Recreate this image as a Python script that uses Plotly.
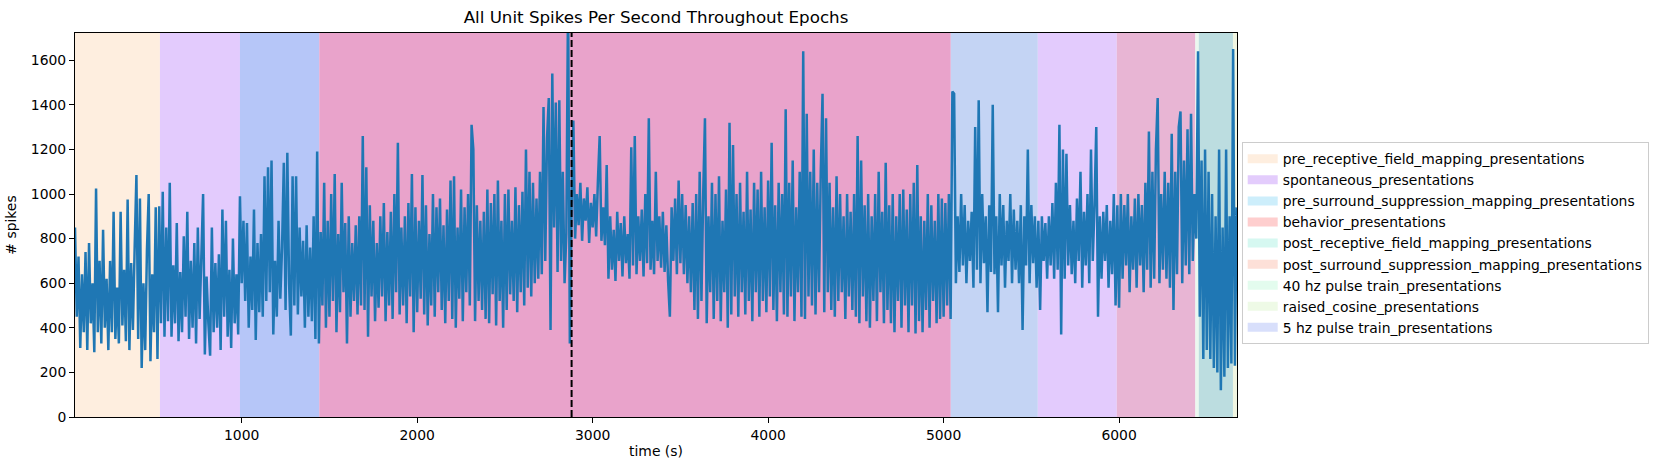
import numpy as np
import plotly.graph_objects as go

# ---------------- data ----------------
time_start = 50      # s, first sample
time_step = 10       # s between samples

spikes_per_second = [
    # 50-140
    850, 450, 720, 310, 640, 380, 740, 300, 780, 420,
    # 150-240
    600, 290, 1025, 380, 700, 330, 840, 400, 620, 300,
    # 250-340
    700, 380, 920, 350, 580, 330, 920, 410, 660, 340,
    # 350-440
    975, 300, 690, 390, 760, 1085, 350, 980, 220, 600,
    # 450-540
    300, 750, 1000, 250, 640, 380, 940, 260, 945, 420,
    # 550-640
    1010, 360, 850, 430, 1050, 360, 680, 420, 870, 340,
    # 650-740
    650, 380, 810, 450, 920, 350, 700, 400, 780, 330,
    # 750-840
    850, 440, 720, 1000, 280, 630, 420, 275, 850, 380,
    # 850-940
    690, 400, 730, 300, 930, 450, 880, 360, 660, 310,
    # 950-990
    800, 420, 640, 370, 990,
    # 1000-1090
    600, 880, 520, 870, 400, 720, 480, 930, 345, 780,
    # 1100-1190
    470, 820, 450, 1080, 520, 1120, 560, 1150, 370, 700,
    # 1200-1290
    450, 880, 530, 760, 1140, 480, 1185, 600, 365, 1080,
    # 1300-1390
    500, 1080, 460, 850, 540, 790, 400, 860, 450, 760,
    # 1400-1490
    430, 900, 350, 1190, 330, 830, 500, 1050, 400, 880,
    # 1500-1590
    450, 1000, 520, 1090, 380, 820, 470, 1050, 560, 870,
    # 1600-1690
    330, 900, 450, 780, 520, 860, 460, 900, 500, 1260,
    # 1700-1790
    480, 1120, 360, 950, 540, 880, 430, 780, 490, 900,
    # 1800-1890
    540, 960, 430, 830, 500, 920, 440, 1000, 560, 1230,
    # 1900-1990
    460, 850, 500, 900, 420, 960, 540, 1090, 380, 940,
    # 2000-2090
    470, 880, 530, 1085, 460, 950, 410, 820, 500, 1000,
    # 2100-2190
    450, 940, 560, 980, 480, 860, 420, 930, 520, 1060,
    # 2200-2290
    440, 1080, 400, 850, 530, 1020, 430, 940, 560, 1000,
    # 2300-2390
    500, 1310, 1200, 430, 950, 520, 880, 480, 920, 440,
    # 2400-2490
    1020, 420, 960, 550, 1000, 410, 1060, 520, 880, 400,
    # 2500-2590
    1000, 480, 1020, 550, 880, 520, 1030, 470, 950, 560,
    # 2600-2690
    1010, 500, 1200, 580, 1100, 540, 1050, 600, 980, 620,
    # 2700-2790
    1100, 640, 1390, 700, 1250, 1430, 390, 1540, 850, 1410,
    # 2800-2890
    650, 1420, 700, 1100, 600, 820, 1900, 330, 950, 1330,
    # 2900-2990
    800, 1000, 860, 1050, 790, 980, 880, 1030, 780, 960,
    # 3000-3090
    850, 1000, 810, 1060, 1260, 790, 940, 770, 1130, 620,
    # 3100-3190
    900, 660, 840, 610, 920, 700, 870, 630, 900, 690,
    # 3200-3290
    820, 620, 1210, 680, 1260, 640, 900, 700, 930, 630,
    # 3300-3390
    1000, 690, 1340, 660, 880, 640, 1100, 700, 900, 670,
    # 3400-3490
    920, 650, 860, 610, 450, 940, 700, 980, 640, 1060,
    # 3500-3590
    690, 1000, 640, 950, 600, 900, 560, 960, 480, 1000,
    # 3600-3690
    440, 1100, 520, 1000, 1340, 420, 900, 560, 1050, 440,
    # 3700-3790
    1000, 520, 1080, 430, 880, 560, 1020, 400, 1320, 460,
    # 3800-3890
    1220, 540, 1000, 450, 1050, 560, 920, 460, 1100, 520,
    # 3900-3990
    930, 430, 1050, 560, 1020, 450, 1100, 520, 940, 470,
    # 4000-4090
    1060, 540, 1230, 480, 950, 430, 1050, 560, 1000, 460,
    # 4100-4190
    1380, 450, 1050, 540, 1150, 430, 940, 560, 1100, 450,
    # 4200-4290
    1640, 440, 1360, 540, 1100, 500, 1200, 460, 1050, 560,
    # 4300-4390
    1100, 1450, 470, 1340, 560, 1050, 480, 940, 450, 1080,
    # 4400-4490
    520, 1000, 560, 900, 440, 1000, 540, 920, 480, 1000,
    # 4500-4590
    450, 1260, 420, 1150, 540, 950, 430, 1000, 400, 900,
    # 4600-4690
    520, 1000, 430, 1100, 560, 920, 420, 1140, 480, 950,
    # 4700-4790
    420, 1000, 380, 900, 520, 1000, 400, 1020, 500, 930,
    # 4800-4890
    380, 1000, 500, 1050, 375, 1130, 430, 900, 380, 880,
    # 4900-4990
    480, 1000, 400, 950, 520, 880, 420, 1000, 440, 980,
    # 5000-5090
    450, 960, 500, 1000, 440, 1460, 1450, 600, 900, 650,
    # 5100-5190
    1000, 680, 950, 600, 880, 700, 920, 580, 1300, 660,
    # 5200-5290
    1420, 600, 1000, 690, 900, 470, 950, 650, 1400, 640,
    # 5300-5390
    900, 470, 1000, 680, 950, 580, 880, 700, 1000, 600,
    # 5400-5490
    930, 660, 880, 600, 950, 390, 900, 680, 1200, 600,
    # 5500-5590
    950, 690, 900, 580, 880, 480, 900, 700, 870, 620,
    # 5600-5690
    900, 680, 960, 620, 1050, 660, 1310, 370, 1200, 620,
    # 5700-5790
    1180, 680, 950, 640, 880, 600, 980, 700, 1100, 580,
    # 5800-5890
    920, 680, 1000, 600, 1200, 700, 950, 1300, 450, 900,
    # 5900-5990
    620, 920, 700, 950, 580, 880, 640, 1000, 500, 950,
    # 6000-6090
    490, 1000, 620, 950, 680, 1000, 560, 900, 660, 980,
    # 6100-6190
    580, 1000, 680, 950, 560, 1050, 660, 1280, 580, 1100,
    # 6200-6290
    620, 1200, 1430, 600, 1000, 660, 1100, 620, 1050, 580,
    # 6300-6390
    1270, 480, 1100, 640, 1300, 1370, 600, 1150, 680, 1290,
    # 6400-6490
    640, 1360, 700, 1000, 800, 1640, 450, 1150, 260, 1200,
    # 6500-6590
    300, 1100, 260, 1000, 220, 900, 200, 1200, 120, 850,
    # 6600-6670
    180, 1200, 220, 900, 240, 1650, 230, 940,
]

epoch_names = [
    "pre_receptive_field_mapping_presentations",
    "spontaneous_presentations",
    "pre_surround_suppression_mapping_presentations",
    "behavior_presentations",
    "post_receptive_field_mapping_presentations",
    "post_surround_suppression_mapping_presentations",
    "40 hz pulse train_presentations",
    "raised_cosine_presentations",
    "5 hz pulse train_presentations",
]

# shaded background spans as they appear (overlapping epochs blended)
span_start = [50, 534, 990, 1442, 5041, 5537, 5987, 6435, 6454, 6649]
span_end = [534, 990, 1442, 5041, 5537, 5987, 6435, 6454, 6649, 6672]

marker_time = 2880      # dashed reference line
x_limits = [50, 6672]
y_limits = [0, 1722]
x_ticks = [1000, 2000, 3000, 4000, 5000, 6000]
y_ticks = [0, 200, 400, 600, 800, 1000, 1200, 1400, 1600]

# ---------------- styles ----------------
legend_colors = ["#feeedf", "#e3ccfc", "#cdeefb", "#fecece", "#d6f8f1",
                 "#fde0d8", "#e3fcee", "#eefae6", "#d8dffb"]
span_colors = ["#feeedf", "#e3cbfd", "#b6c6f8", "#e9a3cb", "#c4d4f4",
               "#e3cbfd", "#e8b5d4", "#eaf8ef", "#bcdde0", "#f1f6e2"]
FONT = "DejaVu Sans"
FS = 13.9

t = time_start + time_step * np.arange(len(spikes_per_second))

fig = go.Figure()
fig.add_trace(go.Scatter(x=t, y=spikes_per_second, mode="lines",
                         line=dict(color="#1f77b4", width=2.5, simplify=False),
                         showlegend=False, hoverinfo="skip"))
for name, c in zip(epoch_names, legend_colors):
    fig.add_trace(go.Scatter(x=[None], y=[None], mode="lines", name=name,
                             line=dict(color=c, width=9)))

for s, e, c in zip(span_start, span_end, span_colors):
    fig.add_shape(type="rect", xref="x", yref="paper", x0=s, x1=e, y0=0, y1=1,
                  fillcolor=c, line=dict(width=0), layer="below")

fig.add_shape(type="line", xref="x", yref="paper", x0=marker_time, x1=marker_time,
              y0=0, y1=1, line=dict(color="black", width=2, dash="7px,3px"),
              layer="above")

axis_common = dict(showgrid=False, zeroline=False, showline=True, linecolor="black",
                   linewidth=1, mirror=True, ticks="outside", ticklen=5, tickwidth=1,
                   tickcolor="black", tickfont=dict(size=FS, color="black", family=FONT))

fig.update_layout(
    width=1660, height=470,
    margin=dict(l=75, r=423, t=33, b=53, autoexpand=False),
    paper_bgcolor="white", plot_bgcolor="white",
    font=dict(family=FONT, size=FS, color="black"),
    title=dict(text="All Unit Spikes Per Second Throughout Epochs",
               font=dict(size=16.7, family=FONT, color="black"),
               x=0.5, xref="paper", xanchor="center",
               y=1 - 17 / 470, yref="container", yanchor="middle"),
    xaxis=dict(range=x_limits, tickvals=x_ticks,
               title=dict(text="time (s)", font=dict(size=FS), standoff=4),
               **axis_common),
    yaxis=dict(range=y_limits, tickvals=y_ticks,
               title=dict(text="# spikes", font=dict(size=FS), standoff=10),
               **axis_common),
    legend=dict(x=(1241.7 - 75) / 1162, xanchor="left", y=0.4525, yanchor="middle",
                bgcolor="white", bordercolor="#cccccc", borderwidth=1,
                font=dict(size=FS, family=FONT, color="black"),
                tracegroupgap=0, itemwidth=30),
    showlegend=True,
)

fig.write_html("out.html")
